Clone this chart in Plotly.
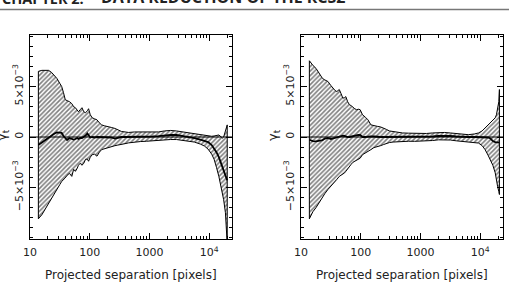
import numpy as np
import plotly.graph_objects as go

# ---------------- data (gamma_t in units of 1e-3) ----------------
sep_left = [13.8, 15.8, 17.8, 20.4, 22.9, 25.7, 28.2, 31.6, 33.9, 36.3, 38.9, 41.7, 45.7,
            50.1, 53.7, 57.5, 61.7, 64.6, 69.2, 74.1, 79.4, 85.1, 91.2, 95.5, 102, 110,
            120, 132, 145, 158, 178, 204, 229, 263, 295, 339, 389, 447, 562, 708, 891,
            1122, 1413, 1778, 2239, 2818, 3548, 4467, 5623, 7079, 8318, 9550, 10965,
            12023, 13183, 14454, 15849, 16596, 17378, 18621, 19953]
upper_left = [6.5, 6.6, 6.6, 6.6, 6.4, 6.1, 5.8, 5.3, 5.0, 4.4, 3.7, 3.6, 3.5,
              3.3, 3.0, 2.9, 2.6, 2.5, 2.7, 2.9, 2.5, 2.4, 2.6, 2.8, 2.2, 1.9,
              1.8, 1.7, 1.4, 1.2, 1.1, 1.05, 0.95, 0.85, 0.7, 0.55, 0.5, 0.45, 0.5, 0.5, 0.45,
              0.45, 0.5, 0.6, 0.65, 0.6, 0.5, 0.4, 0.3, 0.2, 0.12, 0.08, 0.07,
              0.1, 0.15, 0.2, 0.0, -0.1, 0.0, 0.5, 1.2]
lower_left = [-8.1, -7.7, -7.3, -6.7, -6.1, -5.6, -5.2, -4.7, -4.4, -4.2, -4.05, -3.8, -3.6,
              -3.9, -3.2, -3.4, -3.1, -2.8, -2.6, -2.8, -2.6, -2.2, -2.2, -2.4, -2.0, -1.75,
              -1.7, -1.9, -1.5, -1.25, -1.15, -1.1, -0.95, -0.86, -0.8, -0.7, -0.66, -0.58, -0.5, -0.45, -0.42,
              -0.40, -0.38, -0.3, -0.25, -0.25, -0.3, -0.4, -0.5, -0.7, -0.9, -1.2, -1.7,
              -2.2, -3.0, -3.9, -5.1, -5.6, -6.2, -7.5, -10.6]
mean_left = [-0.8, -0.55, -0.3, 0.0, 0.2, 0.35, 0.45, 0.45, 0.4, 0.1, -0.15, -0.3, -0.1,
             -0.15, -0.25, -0.2, -0.1, -0.2, -0.1, -0.1, 0.0, 0.15, 0.35, 0.2, -0.05, 0.0,
             -0.05, 0.0, 0.0, 0.0, 0.0, 0.0, -0.05, -0.15, -0.05, 0.0, 0.0, 0.0, 0.0, 0.02, 0.03,
             0.05, 0.08, 0.15, 0.2, 0.2, 0.12, 0.02, -0.1, -0.25, -0.35, -0.5, -0.8,
             -1.15, -1.5, -2.0, -2.6, -2.9, -3.2, -3.7, -4.3]

sep_right = [13.8, 14.8, 15.8, 17.8, 19.1, 20.4, 22.9, 25.1, 28.2, 31.6, 33.9, 37.2, 39.8,
             43.7, 46.8, 50.1, 53.7, 56.2, 60.3, 64.6, 69.2, 74.1, 79.4, 85.1, 91.2, 97.7,
             107, 120, 132, 148, 166, 191, 214, 240, 269, 302, 347, 398, 501, 631, 794,
             1000, 1259, 1585, 1995, 2512, 3162, 3981, 5012, 6310, 7943, 9333, 10715,
             12023, 13490, 14791, 16218, 17783, 18621, 19498, 20417, 20893]
upper_right = [7.55, 7.3, 7.1, 6.8, 6.5, 6.2, 5.8, 5.65, 5.5, 5.1, 4.85, 4.6, 4.5,
               4.7, 4.3, 3.85, 3.9, 4.0, 3.5, 3.2, 3.1, 2.9, 2.8, 2.7, 2.75, 2.7,
               2.2, 1.95, 1.7, 1.2, 1.1, 1.05, 1.0, 0.9, 0.75, 0.6, 0.55, 0.45, 0.4, 0.38, 0.35,
               0.35, 0.35, 0.4, 0.45, 0.45, 0.4, 0.35, 0.28, 0.23, 0.3, 0.4, 0.6,
               0.9, 1.2, 1.4, 1.6, 1.9, 2.2, 2.7, 3.5, 4.7]
lower_right = [-8.1, -7.7, -7.4, -7.0, -6.7, -6.5, -6.0, -5.6, -5.2, -4.8, -4.6, -4.4, -4.2,
               -3.9, -3.8, -3.65, -3.55, -3.4, -3.1, -2.9, -2.7, -2.5, -2.4, -2.3, -2.2, -2.1,
               -1.75, -1.6, -1.4, -1.25, -1.05, -0.95, -0.86, -0.75, -0.62, -0.55, -0.5, -0.45, -0.43, -0.42, -0.43,
               -0.43, -0.4, -0.35, -0.28, -0.27, -0.3, -0.38, -0.45, -0.53, -0.57, -0.6, -0.85,
               -1.25, -1.8, -2.25, -2.8, -3.55, -4.1, -4.9, -5.4, -5.7]
mean_right = [-0.27, -0.35, -0.4, -0.43, -0.4, -0.37, -0.3, -0.15, -0.1, -0.2, -0.15, -0.05, 0.0,
              0.0, 0.05, 0.13, 0.1, 0.05, 0.0, 0.0, 0.05, 0.1, 0.13, 0.15, 0.2, 0.2,
              0.0, 0.0, 0.05, 0.07, 0.05, 0.0, 0.0, 0.0, 0.0, 0.0, 0.0, 0.0, 0.0, 0.0, 0.0,
              0.0, 0.0, 0.05, 0.1, 0.12, 0.1, 0.05, 0.0, 0.0, 0.0, 0.0, 0.0,
              0.0, -0.05, -0.15, -0.4, -0.5, -0.53, -0.55, -0.55, -0.55]

x_major = [10, 100, 1000, 10000]
x_major_text = ["10", "100", "1000", "10<sup>4</sup>"]
y_major = [-5e-3, 0, 5e-3]
y_major_text = ["\u22125\u00d710<sup>\u22123</sup>", "0", "5\u00d710<sup>\u22123</sup>"]
x_title = "Projected separation [pixels]"
y_title = "\u03b3<sub>t</sub>"
header_left = "CHAPTER 2."
header_right = "DATA REDUCTION OF THE RCS2"

# ---------------- figure ----------------
W, H = 509, 286
FONT = "DejaVu Sans"
fig = go.Figure()

def add_panel(sep, up, lo, mid, xa, ya):
    sep = list(sep)
    xs = sep + sep[::-1] + [sep[0]]
    ys = (np.array(list(up) + list(lo)[::-1] + [up[0]]) * 1e-3)
    fig.add_trace(go.Scatter(
        x=xs, y=ys, mode="lines", fill="toself",
        fillcolor="white",
        fillpattern=dict(shape="/", fgcolor="black", bgcolor="white", size=3.2, solidity=0.5),
        line=dict(color="black", width=1), xaxis=xa, yaxis=ya,
        showlegend=False, hoverinfo="skip"))
    fig.add_trace(go.Scatter(
        x=sep, y=np.array(mid) * 1e-3, mode="lines",
        line=dict(color="black", width=1.8), xaxis=xa, yaxis=ya,
        showlegend=False, hoverinfo="skip"))

add_panel(sep_left, upper_left, lower_left, mean_left, "x", "y")
add_panel(sep_right, upper_right, lower_right, mean_right, "x2", "y2")

minor_vals = [m * 10 ** d for d in range(1, 5) for m in range(2, 10) if m * 10 ** d < 25000]

ytop_px, ybot_px = 35, 239
ydom = [(H - ybot_px) / H, (H - ytop_px) / H]
panels = [(30, 232), (301, 503)]

def xaxis_cfg(x0, x1, anchor):
    return dict(type="log", range=[1, 4.38], domain=[x0 / W, x1 / W], anchor=anchor,
                automargin=False,
                showline=True, linecolor="black", linewidth=1, mirror="ticks",
                ticks="inside", ticklen=6, tickcolor="black", tickwidth=1,
                tickmode="array", tickvals=x_major, ticktext=x_major_text,
                minor=dict(tickmode="array", tickvals=minor_vals, ticks="inside",
                           ticklen=3, tickcolor="black", tickwidth=1, showgrid=False),
                showgrid=False, zeroline=False, ticklabelstandoff=3,
                tickfont=dict(family=FONT, size=11, color="#222"))

def yaxis_cfg(anchor):
    return dict(range=[-0.0101, 0.0101], domain=ydom, anchor=anchor,
                automargin=False,
                showline=True, linecolor="black", linewidth=1, mirror="ticks",
                ticks="inside", ticklen=6, tickcolor="black", tickwidth=1,
                tickmode="array", tickvals=y_major, ticktext=y_major_text, tickangle=-90,
                minor=dict(tickmode="array", tickvals=[v * 1e-3 for v in range(-10, 11)],
                           ticks="inside", ticklen=3, tickcolor="black", tickwidth=1,
                           showgrid=False),
                showgrid=False, zeroline=False, ticklabelstandoff=2,
                tickfont=dict(family=FONT, size=11, color="#222"))

fig.update_layout(
    width=W, height=H, margin=dict(l=0, r=0, t=0, b=0),
    paper_bgcolor="white", plot_bgcolor="white",
    xaxis=xaxis_cfg(*panels[0], "y"), yaxis=yaxis_cfg("x"),
    xaxis2=xaxis_cfg(*panels[1], "y2"), yaxis2=yaxis_cfg("x2"),
)

# zero reference lines
for xr, yr in [("x domain", "y"), ("x2 domain", "y2")]:
    fig.add_shape(type="line", xref=xr, yref=yr, x0=0, x1=1, y0=0, y1=0,
                  line=dict(color="black", width=1), layer="above")

# axis titles as annotations
for (x0, x1) in panels:
    fig.add_annotation(text=x_title, xref="paper", yref="paper",
                       x=(x0 + x1) / 2 / W, y=1 - 275 / H, xanchor="center", yanchor="middle",
                       showarrow=False, font=dict(family=FONT, size=12, color="#222"))
    fig.add_annotation(text=y_title, xref="paper", yref="paper",
                       x=(x0 - 28) / W, y=1 - 135 / H, xanchor="center", yanchor="middle",
                       textangle=-90, showarrow=False,
                       font=dict(family=FONT, size=13, color="#222"))

# page header (partially cut off at top)
fig.add_annotation(text=header_left, xref="paper", yref="paper", x=0, y=1 - 10 / H,
                   xanchor="left", yanchor="bottom", showarrow=False,
                   font=dict(family="Open Sans", size=14.5, color="#222", weight="bold"))
fig.add_annotation(text=header_right, xref="paper", yref="paper", x=99 / W, y=1 - 10 / H,
                   xanchor="left", yanchor="bottom", showarrow=False,
                   font=dict(family="Open Sans", size=16, color="#222", weight="bold"))
fig.add_shape(type="line", xref="paper", yref="paper", x0=0, x1=1,
              y0=1 - 9.5 / H, y1=1 - 9.5 / H, line=dict(color="#777", width=1.5))

fig.write_html("out.html")
